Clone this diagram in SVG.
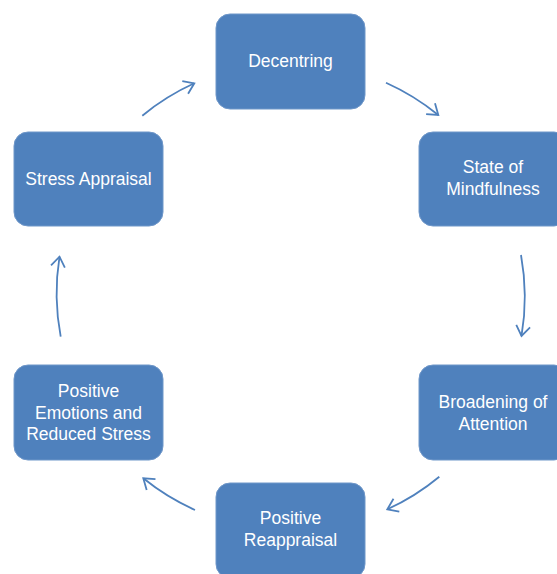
<svg xmlns="http://www.w3.org/2000/svg" width="557" height="574" viewBox="0 0 557 574">
<style>
.box{fill:#4F81BD;stroke:#6f97c9;stroke-width:1}
.lbl{font-family:"Liberation Sans",Arial,sans-serif;font-size:17.5px;fill:#fff;text-anchor:middle}
.arc{fill:none;stroke:#4F81BD;stroke-width:1.8;marker-end:url(#ah)}
</style>
<defs>
<marker id="ah" markerUnits="userSpaceOnUse" markerWidth="24" markerHeight="24" viewBox="-12 -12 24 24" refX="0" refY="0" orient="auto">
<path d="M-10,-7 L0,0 L-10,7" fill="none" stroke="#4F81BD" stroke-width="1.8" stroke-linejoin="miter"/>
</marker>
</defs>
<rect width="557" height="574" fill="#fff"/>
<g id="connectors">
<path class="arc" d="M142.3,115.7 A233.5,233.5 0 0 1 194.3,83.3"/>
<path class="arc" d="M386,82.7 A233.5,233.5 0 0 1 438.3,115"/>
<path class="arc" d="M521,255 A233.5,233.5 0 0 1 521.5,336"/>
<path class="arc" d="M439.3,476.7 A233.5,233.5 0 0 1 387.3,509.3"/>
<path class="arc" d="M195,510 A233.5,233.5 0 0 1 143.3,478.3"/>
<path class="arc" d="M60.7,336.7 A233.5,233.5 0 0 1 59.5,256.7"/>
</g>
<g id="decentring">
<rect class="box" x="216" y="14" width="149" height="95" rx="14"/>
<text class="lbl" x="290.5" y="67">Decentring</text>
</g>
<g id="state-of-mindfulness">
<rect class="box" x="419" y="132" width="149" height="94" rx="14"/>
<text class="lbl" x="493" y="173">State of</text>
<text class="lbl" x="493" y="195">Mindfulness</text>
</g>
<g id="broadening-of-attention">
<rect class="box" x="419" y="365" width="149" height="95" rx="14"/>
<text class="lbl" x="493" y="408">Broadening of</text>
<text class="lbl" x="493" y="430">Attention</text>
</g>
<g id="positive-reappraisal">
<rect class="box" x="216" y="483" width="149" height="95" rx="14"/>
<text class="lbl" x="290.5" y="524">Positive</text>
<text class="lbl" x="290.5" y="546">Reappraisal</text>
</g>
<g id="positive-emotions">
<rect class="box" x="14" y="365" width="149" height="95" rx="14"/>
<text class="lbl" x="88.5" y="397">Positive</text>
<text class="lbl" x="88.5" y="418.5">Emotions and</text>
<text class="lbl" x="88.5" y="440">Reduced Stress</text>
</g>
<g id="stress-appraisal">
<rect class="box" x="14" y="132" width="149" height="94" rx="14"/>
<text class="lbl" x="88.5" y="184.5">Stress Appraisal</text>
</g>
</svg>
